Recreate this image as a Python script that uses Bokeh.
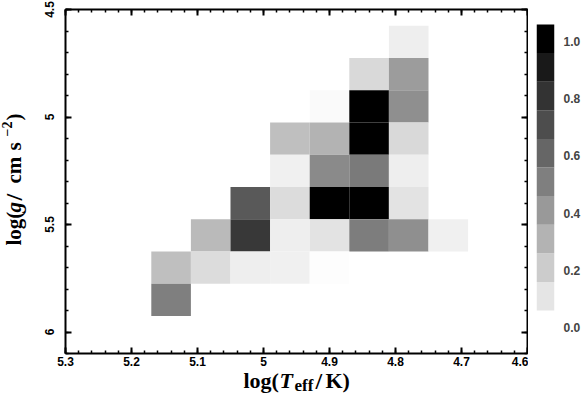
import numpy as np
from bokeh.plotting import figure
from bokeh.layouts import row, column
from bokeh.models import (Range1d, FixedTicker, LinearAxis, Label, LinearColorMapper,
                          CustomJSTickFormatter, ColumnDataSource)
from bokeh.transform import transform
from bokeh.embed import file_html
from bokeh.resources import INLINE

# ---------------- data ----------------
# bin sizes of the 2D histogram
bin_logt = 0.06
bin_logg = 0.15
# cell centres (log Teff, log g) and normalised number fraction
cell_logt = [4.78,
             4.84, 4.78,
             4.90, 4.84, 4.78,
             4.96, 4.90, 4.84, 4.78,
             4.96, 4.90, 4.84, 4.78,
             5.02, 4.96, 4.90, 4.84, 4.78,
             5.08, 5.02, 4.96, 4.90, 4.84, 4.78, 4.72,
             5.14, 5.08, 5.02, 4.96, 4.90,
             5.14]
cell_logg = [4.65,
             4.80, 4.80,
             4.95, 4.95, 4.95,
             5.10, 5.10, 5.10, 5.10,
             5.25, 5.25, 5.25, 5.25,
             5.40, 5.40, 5.40, 5.40, 5.40,
             5.55, 5.55, 5.55, 5.55, 5.55, 5.55, 5.55,
             5.70, 5.70, 5.70, 5.70, 5.70,
             5.85]
cell_frac = [0.07,
             0.15, 0.39,
             0.02, 1.00, 0.44,
             0.25, 0.30, 1.00, 0.15,
             0.06, 0.46, 0.52, 0.07,
             0.65, 0.14, 1.00, 1.00, 0.11,
             0.27, 0.78, 0.07, 0.11, 0.51, 0.44, 0.06,
             0.25, 0.14, 0.07, 0.06, 0.01,
             0.50]

x_ticks = [5.3, 5.2, 5.1, 5.0, 4.9, 4.8, 4.7, 4.6]
x_tick_labels = ["5.3", "5.2", "5.1", "5", "4.9", "4.8", "4.7", "4.6"]
y_ticks = [4.5, 5.0, 5.5, 6.0]
y_tick_labels = ["4.5", "5", "5.5", "6"]
cb_levels = [0.0, 0.1, 0.2, 0.3, 0.4, 0.5, 0.6, 0.7, 0.8, 0.9, 1.0]
cb_ticks = [0.0, 0.2, 0.4, 0.6, 0.8, 1.0]
cb_tick_labels = ["0.0", "0.2", "0.4", "0.6", "0.8", "1.0"]

# ---------------- style / layout (page pixels) ----------------
PAGE_W, PAGE_H = 583, 395
FR_L, FR_T, FR_R, FR_B = 65, 9, 527, 353       # main frame
YLAB_W = 30                                    # strip for y title
TOP_H = 371                                    # height of the plot row
W_MAIN = FR_R + 1 - YLAB_W
W_CB = PAGE_W - YLAB_W - W_MAIN
TICK_FONT = "Liberation Sans"
TITLE_FONT = "Liberation Serif"
TICK_SIZE = "12px"
TEXT_SHIFT = 8          # compensation of the label baseline placement

grays = ["#%02x%02x%02x" % (g, g, g) for g in np.linspace(255, 0, 256).round().astype(int)]
mapper = LinearColorMapper(palette=grays, low=0.0, high=1.0)

p = figure(width=W_MAIN, height=TOP_H, x_range=Range1d(5.3, 4.6), y_range=Range1d(6.1, 4.5),
           output_backend="svg", toolbar_location=None,
           min_border_left=FR_L - YLAB_W, min_border_right=1, min_border_top=FR_T,
           min_border_bottom=TOP_H - FR_B,
           x_axis_location=None, y_axis_location=None)
p.grid.visible = False
p.outline_line_color = None

src = ColumnDataSource(dict(logt=cell_logt, logg=cell_logg, frac=cell_frac))
p.rect(x="logt", y="logg", width=bin_logt, height=bin_logg, source=src,
       fill_color=transform("frac", mapper), line_color=None)

x_minor = list(np.round(np.arange(4.6, 5.3 + 1e-9, 0.02), 2))
y_minor = list(np.round(np.arange(4.5, 6.1 + 1e-9, 0.1), 2))
xt = FixedTicker(ticks=x_ticks, minor_ticks=x_minor)
yt = FixedTicker(ticks=y_ticks, minor_ticks=y_minor)
blank = CustomJSTickFormatter(code="return ''")


def style(ax, labels=True):
    ax.axis_line_width = 2
    ax.axis_line_color = "black"
    ax.major_tick_in = 6
    ax.major_tick_out = 0
    ax.minor_tick_in = 3
    ax.minor_tick_out = 0
    ax.major_tick_line_width = 2
    ax.minor_tick_line_width = 1.5
    ax.major_label_text_font = TICK_FONT
    ax.major_label_text_font_style = "bold"
    ax.major_label_text_font_size = TICK_SIZE if labels else "0px"
    ax.major_label_text_color = "black"
    if not labels:
        ax.major_label_standoff = 0


bottom = LinearAxis(ticker=xt, major_label_overrides=dict(zip(x_ticks, x_tick_labels)))
style(bottom)
bottom.major_label_standoff = 3
top = LinearAxis(ticker=xt, formatter=blank)
style(top, labels=False)
left = LinearAxis(ticker=yt, major_label_overrides=dict(zip(y_ticks, y_tick_labels)),
                  major_label_orientation="vertical")
style(left)
left.major_label_standoff = 12
right = LinearAxis(ticker=yt, formatter=blank)
style(right, labels=False)
p.add_layout(bottom, "below")
p.add_layout(top, "above")
p.add_layout(left, "left")
p.add_layout(right, "right")


def blank_fig(w, h):
    f = figure(width=w, height=h, x_range=Range1d(0, 1), y_range=Range1d(0, 1),
               output_backend="svg", toolbar_location=None,
               min_border_left=0, min_border_right=0, min_border_top=0, min_border_bottom=0,
               x_axis_location=None, y_axis_location=None)
    f.grid.visible = False
    f.outline_line_color = None
    return f


def add_text(f, text, cx, cy, size, fstyle="bold", angle=0.0):
    f.add_layout(Label(x=cx, y=cy, x_units="canvas", y_units="canvas", text=text,
                       text_font=TITLE_FONT, text_font_size=f"{size}px",
                       text_font_style=fstyle, text_color="black",
                       text_align="left", text_baseline="alphabetic", angle=angle))


# y-axis title strip: log(g/cm s^-2), rotated
yfig = blank_fig(YLAB_W, TOP_H)
yb = 21 - TEXT_SHIFT
a = np.pi / 2
add_text(yfig, "log(", yb, 245, 21, angle=a)
add_text(yfig, "g", yb, 212, 21, "bold italic", angle=a)
add_text(yfig, "/", yb, 200, 24, angle=a)
add_text(yfig, "cm", yb, 183, 21, angle=a)
add_text(yfig, "s", yb, 150, 21, angle=a)
add_text(yfig, "\u22122", yb - 7, 136, 14, angle=a)
add_text(yfig, ")", yb, 120, 21, angle=a)

# x-axis title strip: log(T_eff/K)
xfig = blank_fig(PAGE_W, PAGE_H - TOP_H)
xb = 388 - TOP_H - TEXT_SHIFT
add_text(xfig, "log(", 243, xb, 22)
add_text(xfig, "T", 279, xb, 22, "bold italic")
add_text(xfig, "eff", 294, xb + 5, 17)
add_text(xfig, "/", 315, xb, 24)
add_text(xfig, "K)", 325, xb, 22)

# ---------------- colour bar ----------------
CB_L, CB_R = 536, 555          # bar edges (page px)
CB_TOP, CB_BOT = 24, 310       # bar top/bottom (page px)
cb_x0 = YLAB_W + W_MAIN
px_per_unit = (CB_BOT - CB_TOP) / (cb_levels[-1] - cb_levels[0])
cb_hi = cb_levels[-1] + (CB_TOP - FR_T) / px_per_unit
cb_lo = cb_levels[0] - (FR_B - CB_BOT) / px_per_unit
label_shift = 17 / px_per_unit

cb = figure(width=W_CB, height=TOP_H, x_range=Range1d(0, 1), y_range=Range1d(cb_lo, cb_hi),
            output_backend="svg", toolbar_location=None,
            min_border_left=CB_L - cb_x0, min_border_right=W_CB - (CB_R - cb_x0),
            min_border_top=FR_T, min_border_bottom=TOP_H - FR_B,
            x_axis_location=None, y_axis_location=None)
cb.grid.visible = False
cb.outline_line_color = None
cb.extra_y_ranges = {"lab": Range1d(cb_lo + label_shift, cb_hi + label_shift)}
band_colors = [grays[int(round(t * 255))] for t in cb_levels[1:]]
cb.quad(left=0, right=1, bottom=cb_levels[:-1], top=cb_levels[1:],
        fill_color=band_colors, line_color=None)
cax = LinearAxis(y_range_name="lab", ticker=FixedTicker(ticks=cb_ticks),
                 major_label_overrides=dict(zip(cb_ticks, cb_tick_labels)))
cax.axis_line_color = None
cax.major_tick_line_color = None
cax.minor_tick_line_color = None
cax.major_label_standoff = 3
cax.major_label_text_font = TICK_FONT
cax.major_label_text_font_style = "bold"
cax.major_label_text_font_size = TICK_SIZE
cb.add_layout(cax, "right")

layout = column(row(yfig, p, cb), xfig)
open("out.html", "w").write(file_html(layout, INLINE))
